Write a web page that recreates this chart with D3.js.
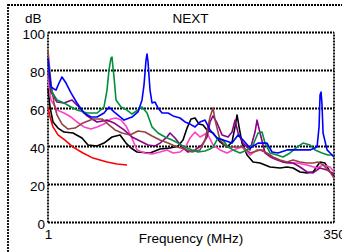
<!DOCTYPE html>
<html>
<head>
<meta charset="utf-8">
<script src="https://cdn.jsdelivr.net/npm/d3@7"></script>
<style>
  body { margin: 0; background: #fff; }
  text { font-family: "Liberation Sans", Arial, sans-serif; font-size: 13.5px; fill: #000; }
</style>
</head>
<body>
<script>
var width = 342, height = 252;

// tick labels
var yTicks = [0, 20, 40, 60, 80, 100];
var xTicks = [1, 350];

// NEXT curves, [MHz, dB]
var red = [[1,60.8],[1.042,55.5],[1.108,50.3],[1.227,46.1],[1.416,43.4],[1.669,39.7],[2.048,36.6],[2.514,33.9],[3.349,31.8],[4.111,30.8],[5.046,30.3]];

var blue = [[1,86.6],[1.021,80.3],[1.063,71.3],[1.178,69.7],[1.253,73.4],[1.332,76.6],[1.446,73.4],[1.602,68.2],[1.811,62.9],[2.091,57.6],[2.413,55.5],[2.729,55.5],[3.150,57.6],[3.489,60.8],[3.866,58.2],[4.746,53.9],[5.589,55.5],[6.321,58.2],[6.861,64.5],[7.146,72.4],[7.446,85.5],[7.600,88.7],[7.758,84.5],[8.082,69.7],[8.420,62.9],[8.954,63.4],[9.521,60.3],[10.34,57.6],[11.69,57.6],[12.95,56.1],[14.94,55.0],[16.55,52.9],[18.34,51.8],[20.32,50.3],[22.51,52.9],[24.94,53.9],[27.63,48.7],[31.89,44.5],[36.06,43.4],[43.36,41.8],[49.03,46.1],[54.31,43.4],[62.70,39.2],[73.86,41.8],[88.81,41.8],[98.38,37.1],[111.2,36.6],[133.8,38.2],[164.2,38.2],[214.3,38.2],[247.4,39.7],[257.7,50.3],[263.0,67.1],[268.5,68.7],[274.0,61.8],[279.7,47.1],[303.6,38.2],[336.4,35.5],[350,34.5]];

var green = [[1,84.5],[1.042,75.0],[1.085,68.7],[1.202,64.5],[1.388,62.9],[1.602,60.8],[1.811,59.2],[2.223,57.6],[2.729,57.6],[3.150,60.8],[3.349,69.7],[3.489,80.3],[3.636,86.6],[3.711,87.1],[3.787,81.3],[3.866,76.6],[4.027,64.5],[4.462,60.8],[5.046,59.2],[5.589,57.1],[6.321,59.2],[6.861,60.8],[7.600,57.6],[8.420,50.3],[9.521,47.1],[10.99,45.0],[12.68,43.4],[14.35,41.8],[16.55,39.7],[19.10,38.2],[21.61,37.1],[24.94,37.6],[27.63,38.7],[29.38,39.7],[32.55,44.5],[36.06,43.4],[39.95,39.7],[44.26,38.2],[51.08,36.6],[58.98,38.2],[66.66,40.8],[73.86,47.1],[80.17,47.6],[85.24,41.8],[94.43,36.6],[109.0,35.5],[123.3,34.5],[142.2,36.6],[164.2,39.7],[185.7,41.8],[214.3,40.8],[237.4,38.2],[274.0,36.6],[309.9,35.5],[350,35.5]];

var black = [[1,70.8],[1.042,60.8],[1.108,52.9],[1.227,49.7],[1.388,47.6],[1.669,47.1],[2.006,44.5],[2.270,40.8],[2.729,40.3],[3.150,41.8],[3.711,45.0],[4.372,46.1],[4.943,41.8],[5.476,39.2],[6.191,37.1],[8.082,36.6],[9.920,38.7],[12.17,39.2],[14.35,40.3],[15.89,43.4],[17.25,49.7],[18.72,54.5],[20.32,55.0],[22.05,51.8],[23.93,51.3],[25.98,48.7],[29.38,47.1],[33.91,42.4],[39.14,39.7],[43.36,42.4],[46.11,50.3],[48.04,56.6],[50.05,50.3],[53.21,41.8],[58.98,35.5],[66.66,31.8],[76.94,31.3],[94.43,29.2],[115.9,28.7],[133.8,29.2],[151.3,28.7],[174.6,26.6],[201.5,26.1],[227.9,26.6],[263.0,31.8],[291.4,31.3],[322.8,26.6],[350,24.5]];

var pink = [[1,76.6],[1.063,64.5],[1.202,59.2],[1.388,57.6],[1.602,55.5],[1.811,52.9],[2.091,50.3],[2.413,49.2],[2.729,50.3],[3.150,51.8],[3.636,54.5],[4.027,55.0],[4.462,53.9],[4.943,50.8],[5.476,45.5],[6.191,38.2],[7.295,36.6],[8.420,36.1],[9.920,37.1],[11.45,38.2],[12.95,36.6],[14.94,37.1],[16.55,39.2],[18.34,44.5],[20.32,47.6],[22.51,45.0],[25.98,47.1],[29.38,40.8],[33.91,38.2],[39.14,36.6],[44.26,38.2],[53.21,39.7],[62.70,35.5],[72.36,38.2],[81.83,38.2],[94.43,34.5],[109.0,32.9],[133.8,31.3],[164.2,31.3],[201.5,30.3],[247.4,28.7],[279.7,30.3],[322.8,29.2],[350,26.6]];

var purple = [[1,80.3],[1.063,68.7],[1.202,63.4],[1.388,62.9],[1.635,64.5],[1.811,61.8],[2.223,56.1],[2.729,52.9],[3.349,53.9],[3.866,52.4],[4.746,48.7],[5.589,45.0],[6.585,42.9],[7.758,40.8],[8.954,40.3],[9.920,41.8],[11.45,45.0],[12.17,47.1],[13.49,44.5],[15.57,39.7],[17.61,37.1],[20.32,38.2],[23.45,40.8],[25.98,45.0],[27.63,52.9],[29.38,56.1],[31.89,52.4],[35.33,46.1],[39.95,45.0],[43.36,47.6],[46.11,53.9],[49.03,47.1],[54.31,41.8],[62.70,38.2],[69.45,47.6],[72.36,53.9],[76.94,47.1],[85.24,36.6],[100.4,33.9],[123.3,31.8],[151.3,31.3],[174.6,29.2],[201.5,26.6],[227.9,26.1],[263.0,28.7],[303.6,27.6],[350,25.5]];

var brown = [[1,90.8],[1.021,84.5],[1.063,73.4],[1.131,62.9],[1.202,56.6],[1.332,51.8],[1.506,49.2],[1.739,49.7],[2.048,52.4],[2.514,54.5],[3.023,54.5],[3.419,51.8],[3.946,48.7],[4.554,47.1],[5.365,46.1],[6.321,48.2],[7.295,47.6],[8.420,45.5],[9.920,43.4],[11.69,41.8],[14.05,39.7],[16.55,38.7],[19.10,37.1],[22.51,38.2],[24.94,43.4],[27.63,55.5],[29.38,60.3],[30.61,53.9],[33.91,43.4],[39.14,39.7],[44.26,39.7],[54.31,39.7],[62.70,36.6],[76.94,38.2],[88.81,36.6],[100.4,34.5],[115.9,32.9],[133.8,31.8],[151.3,32.9],[174.6,31.8],[201.5,31.3],[227.9,31.3],[252.5,31.8],[279.7,30.3],[322.8,26.6],[350,23.4]];

var series = [
  {data: red, color: "#ff0000"},
  {data: black, color: "#000000"},
  {data: pink, color: "#ff3fc8"},
  {data: purple, color: "#880088"},
  {data: brown, color: "#924444"},
  {data: green, color: "#00903c"},
  {data: blue, color: "#0000ff"}
];

var x = d3.scaleLog().domain([1, 350]).range([48, 334]);
var y = d3.scaleLinear().domain([0, 100]).range([222.5, 32.5]);

var svg = d3.select("body").append("svg")
    .attr("width", width)
    .attr("height", height);

// outer frame, runs off the picture at right and bottom
svg.append("rect")
    .attr("x", 8).attr("y", 5)
    .attr("width", 345).attr("height", 260)
    .attr("fill", "none")
    .attr("stroke", "#000")
    .attr("stroke-width", 1.8)
    .attr("stroke-dasharray", "2,1");

// grid
svg.append("g").selectAll("line")
    .data(yTicks)
    .enter().append("line")
    .attr("x1", x(1)).attr("x2", x(350))
    .attr("y1", d => y(d)).attr("y2", d => y(d))
    .attr("stroke", "#000")
    .attr("stroke-width", 1.8)
    .attr("stroke-dasharray", "2,1");

svg.append("g").selectAll("line")
    .data(xTicks)
    .enter().append("line")
    .attr("x1", d => x(d)).attr("x2", d => x(d))
    .attr("y1", y(0)).attr("y2", y(100))
    .attr("stroke", "#000")
    .attr("stroke-width", 1.8)
    .attr("stroke-dasharray", "2,1");

// axes, labels only
var yAxis = svg.append("g")
    .attr("transform", "translate(46,1.5)")
    .call(d3.axisLeft(y).tickValues(yTicks).tickSize(0).tickPadding(1));
yAxis.select(".domain").remove();

var xAxis = svg.append("g")
    .attr("transform", "translate(0,229)")
    .call(d3.axisBottom(x).tickValues(xTicks).tickFormat(d3.format("d")).tickSize(0).tickPadding(0));
xAxis.select(".domain").remove();

svg.selectAll(".tick text")
    .attr("font-family", "Liberation Sans, Arial, sans-serif")
    .attr("font-size", 13.5)
    .attr("fill", "#000");

// curves
var line = d3.line()
    .x(d => x(d[0]))
    .y(d => y(d[1]));

svg.append("g").selectAll("path")
    .data(series)
    .enter().append("path")
    .attr("d", d => line(d.data))
    .attr("fill", "none")
    .attr("stroke", d => d.color)
    .attr("stroke-width", 1.6)
    .attr("stroke-linejoin", "round");

// titles
svg.append("text").attr("x", 25).attr("y", 23).text("dB");
svg.append("text").attr("x", 190.5).attr("y", 23).attr("text-anchor", "middle").text("NEXT");
svg.append("text").attr("x", 191).attr("y", 243).attr("text-anchor", "middle").text("Frequency (MHz)");
</script>
</body>
</html>
